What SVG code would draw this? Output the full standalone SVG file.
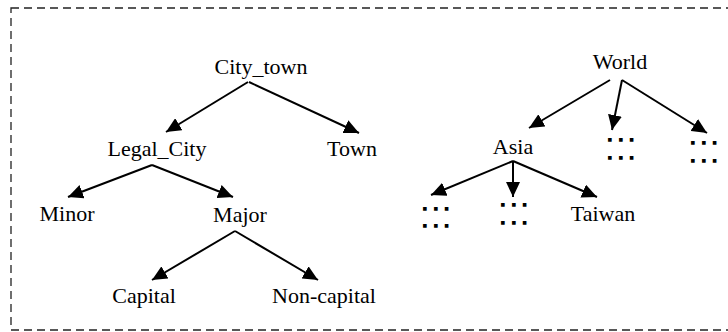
<svg xmlns="http://www.w3.org/2000/svg" width="728" height="332" viewBox="0 0 728 332">
<style>
.lbl{font-family:"Liberation Serif","Times New Roman",serif;font-size:22px;fill:#000;text-anchor:middle}
.dots{font-family:"Liberation Sans",Arial,sans-serif;font-weight:bold;font-size:15px;letter-spacing:6.8px;fill:#000;stroke:#000;stroke-width:1.5}
.edge{stroke:#000;stroke-width:2;fill:none;marker-end:url(#ah)}
.frame{fill:none;stroke:#222;stroke-width:1.3;stroke-dasharray:8 5}
</style>
<defs>
<marker id="ah" markerUnits="userSpaceOnUse" markerWidth="16" markerHeight="14" refX="15" refY="7" orient="auto">
<path d="M0,0 L15,7 L0,14 z" fill="#000"/>
</marker>
</defs>
<rect class="frame" x="11" y="8" width="740" height="322"/>
<g id="edges">
<line class="edge" x1="248" y1="82" x2="166" y2="132"/>
<line class="edge" x1="249" y1="82" x2="359" y2="133"/>
<line class="edge" x1="152" y1="165" x2="68" y2="197"/>
<line class="edge" x1="152" y1="165" x2="233" y2="197"/>
<line class="edge" x1="235" y1="231" x2="152" y2="280"/>
<line class="edge" x1="235" y1="231" x2="318" y2="280"/>
<line class="edge" x1="610" y1="80" x2="529" y2="128"/>
<line class="edge" x1="622" y1="80" x2="612" y2="130"/>
<line class="edge" x1="622" y1="80" x2="707" y2="133"/>
<line class="edge" x1="513" y1="161" x2="431" y2="195"/>
<line class="edge" x1="513" y1="161" x2="513" y2="197"/>
<line class="edge" x1="513" y1="161" x2="597" y2="197"/>
</g>
<g id="city_town"><text class="lbl" x="261" y="74">City_town</text></g>
<g id="legal_city"><text class="lbl" x="157" y="156">Legal_City</text></g>
<g id="town"><text class="lbl" x="352" y="156">Town</text></g>
<g id="minor"><text class="lbl" x="67" y="221">Minor</text></g>
<g id="major"><text class="lbl" x="240" y="222">Major</text></g>
<g id="capital"><text class="lbl" x="144" y="303">Capital</text></g>
<g id="non_capital"><text class="lbl" x="324" y="303">Non-capital</text></g>
<g id="world"><text class="lbl" x="620" y="69">World</text></g>
<g id="asia"><text class="lbl" x="513" y="154">Asia</text></g>
<g id="taiwan"><text class="lbl" x="603" y="221">Taiwan</text></g>
<g id="etc1"><text class="dots" x="607.7" y="141">...</text><text class="dots" x="607.7" y="159">...</text></g>
<g id="etc2"><text class="dots" x="690.7" y="144">...</text><text class="dots" x="690.7" y="162">...</text></g>
<g id="etc3"><text class="dots" x="422.7" y="209.5">...</text><text class="dots" x="422.7" y="227">...</text></g>
<g id="etc4"><text class="dots" x="500.7" y="206">...</text><text class="dots" x="500.7" y="224">...</text></g>
</svg>
